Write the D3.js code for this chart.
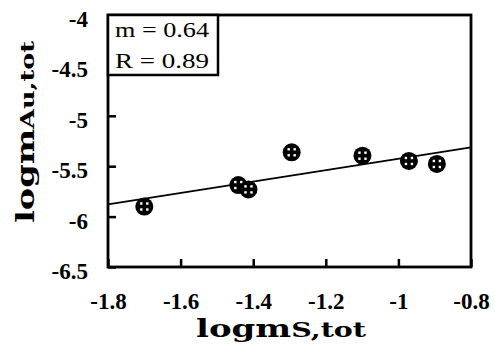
<!DOCTYPE html>
<html>
<head>
<meta charset="utf-8">
<script src="https://cdn.jsdelivr.net/npm/d3@7"></script>
<style>
  body { margin: 0; background: #fff; }
  svg { display: block; }
</style>
</head>
<body>
<script>
// data
const logS = [-1.70, -1.441, -1.413, -1.294, -1.099, -0.971, -0.894];
const logAu = [-5.90, -5.687, -5.73, -5.362, -5.396, -5.448, -5.478];
// fitted line, endpoints as drawn
const fitX = [-1.8, -0.8];
const fitY = [-5.878, -5.313];
const xTicks = [-1.8, -1.6, -1.4, -1.2, -1, -0.8];
const yTicks = [-4, -4.5, -5, -5.5, -6, -6.5];
const statLines = ['m = 0.64', 'R = 0.89'];

const W = 495, H = 347;
const svg = d3.select('body').append('svg')
  .attr('width', W)
  .attr('height', H);

const x = d3.scaleLinear().domain([-1.8, -0.8]).range([108, 471]);
const y = d3.scaleLinear().domain([-6.5, -4]).range([267, 15]);

const tickFont = 'Liberation Serif, Times New Roman, serif';
const fmt = d => String(d); // plain hyphen minus like the original

// x axis, ticks pointing in
const gx = svg.append('g')
  .attr('transform', `translate(0,${y.range()[0]})`)
  .call(d3.axisBottom(x).tickValues(xTicks).tickFormat(fmt).tickSizeInner(-8).tickSizeOuter(0).tickPadding(26));
gx.select('.domain').remove();
gx.selectAll('.tick line').attr('stroke-width', 2.5);
gx.selectAll('.tick text')
  .attr('font-family', tickFont).attr('font-weight', 'bold').attr('font-size', 23).attr('fill', '#000');

// y axis
const gy = svg.append('g')
  .attr('transform', `translate(${x.range()[0]},0)`)
  .call(d3.axisLeft(y).tickValues(yTicks).tickFormat(fmt).tickSizeInner(-8).tickSizeOuter(0).tickPadding(20));
gy.select('.domain').remove();
gy.selectAll('.tick line').attr('stroke-width', 2.5);
gy.selectAll('.tick text')
  .attr('dy', '0.5em')
  .attr('font-family', tickFont).attr('font-weight', 'bold').attr('font-size', 23).attr('fill', '#000');

// frame
svg.append('rect')
  .attr('x', x.range()[0]).attr('y', y.range()[1])
  .attr('width', x.range()[1] - x.range()[0])
  .attr('height', y.range()[0] - y.range()[1])
  .attr('fill', 'none').attr('stroke', '#000').attr('stroke-width', 2.8);

// regression line
svg.append('path')
  .datum(fitX.map((d, i) => [d, fitY[i]]))
  .attr('d', d3.line().x(d => x(d[0])).y(d => y(d[1])))
  .attr('fill', 'none').attr('stroke', '#000').attr('stroke-width', 1.8);

// markers: filled circle with a cross showing four white dots
const pts = svg.selectAll('.pt')
  .data(logS.map((d, i) => [d, logAu[i]]))
  .enter().append('g')
  .attr('class', 'pt')
  .attr('transform', d => `translate(${x(d[0])},${y(d[1])})`);
pts.append('circle').attr('r', 9).attr('fill', '#000');
[[-1, -1], [1, -1], [-1, 1], [1, 1]].forEach(([sx, sy]) => {
  pts.append('rect')
    .attr('x', sx * 3 - 1.2).attr('y', sy * 3 - 1.2)
    .attr('width', 2.4).attr('height', 2.4)
    .attr('fill', '#fff');
});

// stats box
svg.append('rect')
  .attr('x', 108).attr('y', 15).attr('width', 110).attr('height', 60)
  .attr('fill', '#fff').attr('stroke', '#000').attr('stroke-width', 2.5);
svg.selectAll('.stat')
  .data(statLines)
  .enter().append('text')
  .attr('class', 'stat')
  .attr('x', 115)
  .attr('y', (d, i) => 37 + i * 31)
  .attr('font-family', tickFont)
  .attr('font-size', 21)
  .attr('textLength', 94)
  .attr('lengthAdjust', 'spacingAndGlyphs')
  .text(d => d);

// axis titles
const titleFont = 'DejaVu Serif, serif';
const xt = svg.append('text')
  .attr('x', 281).attr('y', 337)
  .attr('text-anchor', 'middle')
  .attr('font-family', titleFont).attr('font-weight', 'bold')
  .attr('textLength', 170).attr('lengthAdjust', 'spacingAndGlyphs');
xt.append('tspan').attr('font-size', 25).text('logm');
xt.append('tspan').attr('font-size', 21).text('S,tot');

const yt = svg.append('text')
  .attr('transform', 'translate(34,132) rotate(-90)')
  .attr('text-anchor', 'middle')
  .attr('font-family', titleFont).attr('font-weight', 'bold')
  .attr('textLength', 182).attr('lengthAdjust', 'spacingAndGlyphs');
yt.append('tspan').attr('font-size', 25).text('logm');
yt.append('tspan').attr('font-size', 19).text('Au,tot');
</script>
</body>
</html>
